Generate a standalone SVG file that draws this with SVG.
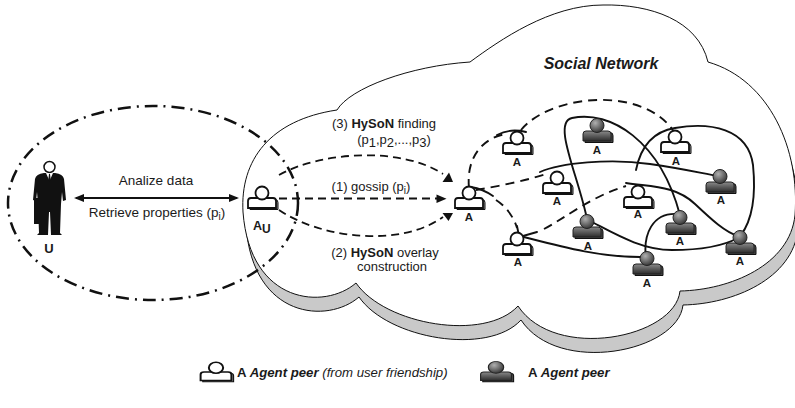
<svg xmlns="http://www.w3.org/2000/svg" width="795" height="408" viewBox="0 0 795 408">
<defs>
<style>
  text { font-family: "Liberation Sans", Arial, sans-serif; fill: #1a1a1a; }
  .lbl { font-size: 11.5px; font-weight: bold; text-anchor: middle; }
  .cap { font-size: 13px; }
  .mid { text-anchor: middle; }
  .b { font-weight: bold; }
  .dash { fill: none; stroke: #111; stroke-width: 1.9; stroke-dasharray: 9 6; }
  .solid { fill: none; stroke: #111; stroke-width: 1.9; stroke-linecap: round; }
  .flow { fill: none; stroke: #111; stroke-width: 1.8; stroke-dasharray: 8 5; }
  .head { fill: #111; }
</style>
<radialGradient id="gHead" cx="0.38" cy="0.32" r="0.75">
  <stop offset="0" stop-color="#b0b0b0"/>
  <stop offset="1" stop-color="#2e2e2e"/>
</radialGradient>
<linearGradient id="gBody" x1="0" y1="0" x2="0" y2="1">
  <stop offset="0" stop-color="#8a8a8a"/>
  <stop offset="1" stop-color="#2c2c2c"/>
</linearGradient>
<path id="base" d="M-14,10 V3 Q-14,0 -11,0 H11 Q14,0 14,3 V10 Z"/>
<g id="peerW">
  <use href="#base" x="2" y="1.5" fill="#8c8c8c" stroke="#111" stroke-width="1"/>
  <use href="#base" fill="#fff" stroke="#111" stroke-width="1.8"/>
  <circle cx="0" cy="-5" r="6.5" fill="#fff" stroke="#111" stroke-width="1.8"/>
</g>
<g id="peerD">
  <use href="#base" x="2" y="1.5" fill="#444" stroke="#111" stroke-width="1"/>
  <use href="#base" fill="url(#gBody)" stroke="#222" stroke-width="1"/>
  <circle cx="0" cy="-5.5" r="7" fill="url(#gHead)" stroke="#222" stroke-width="1"/>
</g>
<marker id="ah" viewBox="0 0 10 8" refX="8" refY="4" markerWidth="10" markerHeight="8" markerUnits="userSpaceOnUse" orient="auto-start-reverse">
  <path d="M0,0 L10,4 L0,8 Z" fill="#111"/>
</marker>
<path id="cloudShape" d="M243,212 C240,160 270,120 337,110 C350,88 410,66 470,62 C500,40 550,5 603,5 C650,4 698,20 708,62 C770,80 800,150 795,215 C790,265 730,290 680,291 C675,338 555,362 518,306 C485,342 385,325 356,283 C325,310 250,305 243,212 Z"/>
</defs>

<rect width="795" height="408" fill="#fff"/>

<!-- social network cloud with its drop shadow -->
<g id="cloud">
  <use href="#cloudShape" transform="translate(3,14)" fill="#c9c9c9" stroke="#111" stroke-width="1"/>
  <use href="#cloudShape" fill="#fff" stroke="#111" stroke-width="1"/>
  <text x="601" y="69" class="mid b" font-size="16" font-style="italic">Social Network</text>
</g>

<!-- user scope (dash-dot ellipse) -->
<ellipse id="user-scope" cx="153" cy="203" rx="145" ry="97" fill="none" stroke="#111" stroke-width="2.5" stroke-dasharray="13 6 2 6"/>

<!-- user U -->
<g id="user">
  <path d="M35,179 Q36,174 44,173 L55,173 Q63,174 64,179 L66,200 L63,201 L62,192 L61,204 L60,233 L62,235 L51,235 L50,212 L49,212 L48,235 L37,235 L39,233 L38,204 L37,192 L36,201 L33,200 Z" fill="#111"/>
  <rect x="34" y="198" width="6" height="26" fill="#111"/>
  <path d="M46,173 L53,173 L49.5,181 Z" fill="#fff"/>
  <path d="M49,174 L50,174 L50.7,179.5 L49.5,182 L48.3,179.5 Z" fill="#111"/>
  <circle cx="49.5" cy="167" r="5.5" fill="#fff" stroke="#111" stroke-width="1.5"/>
  <text x="49" y="253" class="mid b" font-size="13">U</text>
</g>

<!-- connectors -->
<g id="connectors">
  <!-- user <-> A_U -->
  <path d="M76,198 L237,198" stroke="#111" stroke-width="2" marker-start="url(#ah)" marker-end="url(#ah)"/>
  <text x="156" y="185" class="mid" font-size="13.5">Analize data</text>
  <text x="157" y="217" class="mid" font-size="13.5">Retrieve properties (p<tspan font-size="10" dy="3">i</tspan><tspan dy="-3">)</tspan></text>

  <!-- (3) HySoN finding -->
  <path class="flow" d="M279,175 C320,152 400,146 443,174"/>
  <polygon class="head" points="442.5,182 453,182 449,172.5"/>
  <!-- (1) gossip -->
  <path class="flow" d="M279,198.5 L438,198.5"/>
  <polygon class="head" points="436.5,194.5 436.5,203 446.5,198.8"/>
  <!-- (2) HySoN overlay construction -->
  <path class="flow" d="M279,210 C320,238 400,248 443,217"/>
  <polygon class="head" points="442.5,213 453,213 448.5,221"/>

  <text x="384" y="128" class="cap mid">(3) <tspan class="b">HySoN</tspan> finding</text>
  <text x="394" y="144" class="cap mid">(p<tspan dy="3">1</tspan><tspan dy="-3">,p</tspan><tspan dy="3">2</tspan><tspan dy="-3">,...,p</tspan><tspan dy="3">3</tspan><tspan dy="-3">)</tspan></text>
  <text x="371" y="191" class="cap mid">(1) gossip (p<tspan font-size="10" dy="3">i</tspan><tspan dy="-3">)</tspan></text>
  <text x="385" y="257" class="cap mid">(2) <tspan class="b">HySoN</tspan> overlay</text>
  <text x="392" y="271" class="cap mid">construction</text>

  <!-- friendship links (dashed) -->
  <path class="dash" d="M469,188 C466,158 482,138 506,134"/>
  <path class="solid" d="M497,135 Q510,128 526,132"/>
  <path class="dash" d="M521,130 C550,95 640,85 673,130"/>
  <path class="dash" d="M476,190 C500,186 528,180 546,174"/>
  <path class="solid" d="M471,187 Q483,189 493,196"/>
  <path class="dash" d="M496,200 C507,207 514,218 517,228"/>
  <path class="solid" d="M517,226 L519,236"/>
  <path class="solid" d="M523,236 L537,232"/>
  <path class="dash" d="M544,229 C565,218 592,196 626,186"/>

  <!-- agent links (solid) -->
  <path class="solid" d="M587,219 C578,175 552,122 572,118 C610,110 660,140 680,215"/>
  <path class="solid" d="M540,172 C560,163 610,158 650,164 C685,169 705,174 718,176"/>
  <path class="solid" d="M636,170 C640,150 650,132 675,128 C710,122 748,128 753,165 C756,195 752,220 741,235"/>
  <path class="solid" d="M626,183 C650,187 675,185 695,204 C712,220 725,232 738,236"/>
  <path class="solid" d="M588,220 C612,232 640,250 672,250 C705,250 725,245 738,238"/>
  <path class="solid" d="M520,236 C555,245 600,258 645,257"/>
  <path class="solid" d="M646,258 C643,235 652,212 678,214"/>
</g>

<!-- peers -->
<g id="peer-AU">
  <use href="#peerW" x="262" y="198"/>
  <text x="253" y="230" class="b" font-size="12.5">A<tspan font-size="12" dy="3">U</tspan></text>
</g>
<g id="peer-a1"><use href="#peerW" x="469" y="198"/><text x="469" y="221" class="lbl">A</text></g>
<g id="peer-a2"><use href="#peerW" x="517" y="143"/><text x="517" y="166" class="lbl">A</text></g>
<g id="peer-a3"><use href="#peerW" x="675" y="142"/><text x="676" y="165" class="lbl">A</text></g>
<g id="peer-a4"><use href="#peerW" x="557" y="183"/><text x="557" y="205" class="lbl">A</text></g>
<g id="peer-a5"><use href="#peerW" x="638" y="197"/><text x="638" y="218" class="lbl">A</text></g>
<g id="peer-a6"><use href="#peerW" x="517" y="244"/><text x="518" y="266" class="lbl">A</text></g>
<g id="peer-b1"><use href="#peerD" x="597" y="131"/><text x="597" y="154" class="lbl">A</text></g>
<g id="peer-b2"><use href="#peerD" x="720" y="182"/><text x="721" y="204" class="lbl">A</text></g>
<g id="peer-b3"><use href="#peerD" x="587" y="227"/><text x="588" y="250" class="lbl">A</text></g>
<g id="peer-b4"><use href="#peerD" x="680" y="223"/><text x="680" y="245" class="lbl">A</text></g>
<g id="peer-b5"><use href="#peerD" x="740" y="243"/><text x="740" y="265" class="lbl">A</text></g>
<g id="peer-b6"><use href="#peerD" x="647" y="264"/><text x="647" y="287" class="lbl">A</text></g>

<!-- legend -->
<g id="legend">
  <use href="#peerW" transform="translate(216,372) scale(1.1,0.85)"/>
  <text x="237" y="377" font-size="13.2"><tspan class="b">A </tspan><tspan class="b" font-style="italic">Agent peer</tspan><tspan font-style="italic"> (from user friendship)</tspan></text>
  <use href="#peerD" transform="translate(496,372) scale(1.1,0.85)"/>
  <text x="528" y="377" font-size="13.2"><tspan class="b">A </tspan><tspan class="b" font-style="italic">Agent peer</tspan></text>
</g>
</svg>
